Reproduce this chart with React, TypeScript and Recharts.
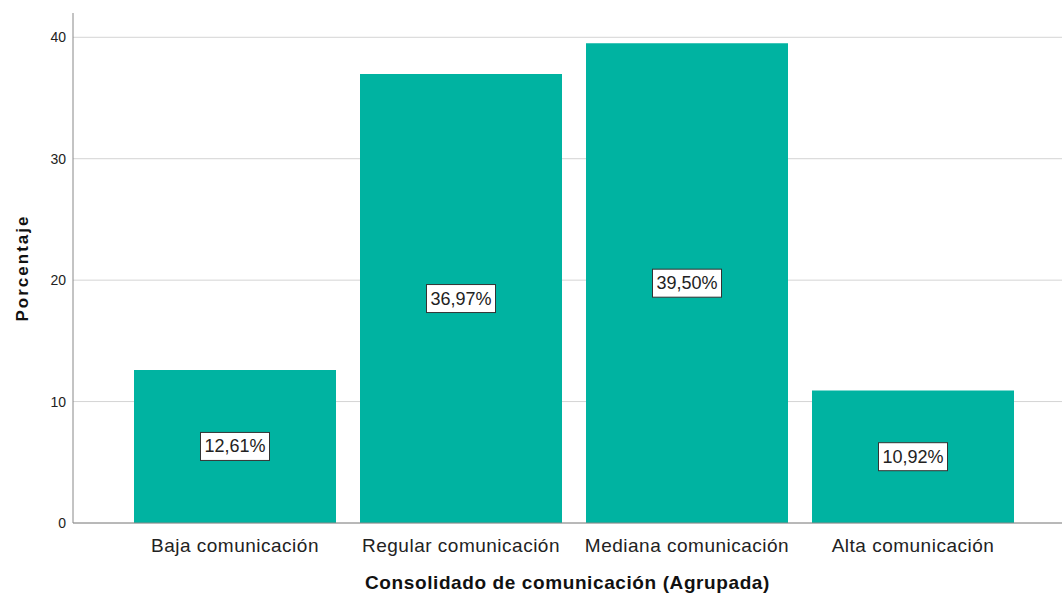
import { BarChart, Bar, XAxis, YAxis, CartesianGrid, LabelList, Label } from 'recharts';

const categories = ['Baja comunicación', 'Regular comunicación', 'Mediana comunicación', 'Alta comunicación'];
const percentages = [12.61, 36.97, 39.5, 10.92];
const yTicks = [0, 10, 20, 30, 40];

const data = categories.map((name, i) => ({ name, value: percentages[i] }));

const FONT = '"Liberation Sans", Arial, sans-serif';

function BoxLabel(props: any) {
  const { x, y, width, height, value } = props;
  const cx = x + width / 2;
  const cy = y + height / 2;
  const text = value.toFixed(2).replace('.', ',') + '%';
  const w = 69;
  const h = 28;
  return (
    <g>
      <rect x={cx - w / 2} y={cy - h / 2} width={w} height={h} fill="#ffffff" stroke="#333333" strokeWidth={1} />
      <text x={cx} y={cy} textAnchor="middle" dominantBaseline="central" fontSize={18} fontFamily={FONT} fill="#222222">
        {text}
      </text>
    </g>
  );
}

export default function App() {
  return (
    <div style={{ position: 'absolute', left: 0, top: 0, width: 1062, height: 596, background: '#fff' }}>
      <BarChart
        width={1062}
        height={596}
        data={data}
        margin={{ top: 13, right: 0, bottom: 0, left: 0 }}
        barCategoryGap={12}
      >
        <CartesianGrid vertical={false} stroke="#d4d4d4" syncWithTicks />
        <XAxis
          dataKey="name"
          height={73}
          padding={{ left: 49, right: 36 }}
          tickLine={false}
          axisLine={{ stroke: '#888888' }}
          tickMargin={10}
          tick={{ fontSize: 19, fontFamily: FONT, fill: '#222222', letterSpacing: 0.5 }}
        >
          <Label
            value="Consolidado de comunicación (Agrupada)"
            position="insideBottom"
            offset={7}
            style={{ fontSize: 19, fontWeight: 'bold', fontFamily: FONT, fill: '#111111', letterSpacing: 0.6 }}
          />
        </XAxis>
        <YAxis
          width={73}
          domain={[0, 42]}
          ticks={yTicks}
          tickLine={false}
          axisLine={{ stroke: '#888888' }}
          tickMargin={1}
          tick={{ fontSize: 14, fontFamily: FONT, fill: '#222222' }}
        >
          <Label
            value="Porcentaje"
            angle={-90}
            position="center"
            dx={-15}
            style={{ fontSize: 17, fontWeight: 'bold', fontFamily: FONT, fill: '#111111', letterSpacing: 2 }}
          />
        </YAxis>
        <Bar dataKey="value" fill="#00b3a1" isAnimationActive={false}>
          <LabelList dataKey="value" content={BoxLabel} />
        </Bar>
      </BarChart>
    </div>
  );
}
